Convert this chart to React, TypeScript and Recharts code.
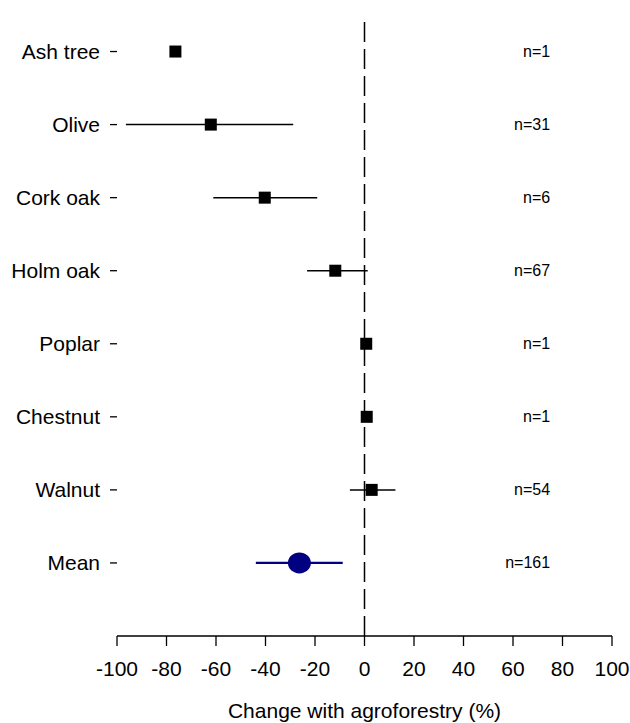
import {
  ErrorBar,
  ReferenceLine,
  Scatter,
  ScatterChart,
  XAxis,
  YAxis,
} from "recharts";

const species = ["Ash tree", "Olive", "Cork oak", "Holm oak", "Poplar", "Chestnut", "Walnut"];
const effect = [-76.4, -62.1, -40.3, -11.8, 0.7, 0.9, 2.9];
const lower = [-76.4, -96.4, -61.1, -23.2, 0.7, 0.9, -5.9];
const upper = [-76.4, -28.8, -19.1, 1.3, 0.7, 0.9, 12.5];
const sampleSizes = [1, 31, 6, 67, 1, 1, 54, 161];

const meanLabel = "Mean";
const meanEffect = -26.3;
const meanLower = -43.9;
const meanUpper = -8.8;

const xTicks = [-100, -80, -60, -40, -20, 0, 20, 40, 60, 80, 100];
const rowLabels = [...species, meanLabel];

// where the n= column sits, in axis units
const N_COLUMN_X = 75;

const speciesData = species.map((name, i) => ({
  name,
  x: effect[i],
  y: i,
  err: [effect[i] - lower[i], upper[i] - effect[i]],
}));

const meanData = [
  {
    name: meanLabel,
    x: meanEffect,
    y: species.length,
    err: [meanEffect - meanLower, meanUpper - meanEffect],
  },
];

const nData = sampleSizes.map((n, i) => ({ x: N_COLUMN_X, y: i, label: `n=${n}` }));

const font = "'Liberation Sans', Arial, sans-serif";

const Square = (p: any) => (
  <rect x={p.cx - 6} y={p.cy - 6} width={12} height={12} fill="#000" />
);

const Blob = (p: any) => <ellipse cx={p.cx} cy={p.cy} rx={11.5} ry={10.5} fill="#000080" />;

const NText = (p: any) => (
  <text
    x={p.cx}
    y={p.cy}
    textAnchor="end"
    dominantBaseline="central"
    fontSize={16}
    fontFamily={font}
    fill="#000"
  >
    {p.payload.label}
  </text>
);

export default function App() {
  return (
    <div style={{ position: "absolute", left: 0, top: 0, background: "#fff" }}>
      <ScatterChart
        width={630}
        height={723}
        margin={{ top: 15, right: 18, bottom: 0, left: 0 }}
        style={{ fontFamily: font }}
      >
        <XAxis
          type="number"
          dataKey="x"
          domain={[-100, 100]}
          ticks={xTicks}
          allowDataOverflow
          height={87}
          stroke="#000"
          axisLine={{ stroke: "#000", strokeWidth: 1.3 }}
          tickLine={{ stroke: "#000", strokeWidth: 1.3 }}
          tickSize={10}
          tickMargin={15}
          tick={{ fill: "#000", fontSize: 21, fontFamily: font }}
          label={{
            value: "Change with agroforestry (%)",
            position: "insideBottom",
            offset: 5,
            fill: "#000",
            fontSize: 21,
            fontFamily: font,
          }}
        />
        <YAxis
          type="number"
          dataKey="y"
          domain={[-0.5, 8]}
          reversed
          ticks={rowLabels.map((_, i) => i)}
          tickFormatter={(v: number) => rowLabels[v] ?? ""}
          width={117}
          axisLine={false}
          tickLine={{ stroke: "#000", strokeWidth: 1.3 }}
          tickSize={7}
          tickMargin={10}
          interval={0}
          tick={{ fill: "#000", fontSize: 21, fontFamily: font }}
        />
        <ReferenceLine x={0} stroke="#000" strokeWidth={1.5} strokeDasharray="20 7" />
        <Scatter data={speciesData} shape={Square} isAnimationActive={false}>
          <ErrorBar dataKey="err" direction="x" width={0} stroke="#000" strokeWidth={1.5} />
        </Scatter>
        <Scatter data={meanData} shape={Blob} isAnimationActive={false}>
          <ErrorBar dataKey="err" direction="x" width={0} stroke="#000080" strokeWidth={2.2} />
        </Scatter>
        <Scatter data={nData} shape={NText} isAnimationActive={false} />
      </ScatterChart>
    </div>
  );
}
